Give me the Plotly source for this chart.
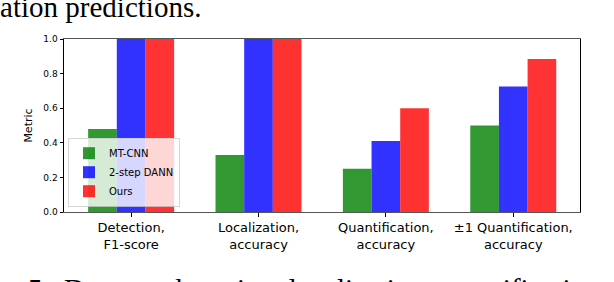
import plotly.graph_objects as go

categories = ["Detection,<br>F1-score", "Localization,<br>accuracy",
              "Quantification,<br>accuracy", "±1 Quantification,<br>accuracy"]
series_names = ["MT-CNN", "2-step DANN", "Ours"]
mtcnn = [0.48, 0.33, 0.25, 0.50]
dann = [1.00, 1.00, 0.41, 0.725]
ours = [1.00, 1.00, 0.60, 0.885]
y_ticks = [0.0, 0.2, 0.4, 0.6, 0.8, 1.0]

colors = ["rgb(0,128,0)", "rgb(0,0,255)", "rgb(255,0,0)"]
positions = list(range(len(categories)))

fig = go.Figure()
for name, vals, col in zip(series_names, [mtcnn, dann, ours], colors):
    fig.add_trace(go.Bar(x=positions, y=vals, name=name,
                         marker=dict(color=col, line=dict(width=0)),
                         opacity=0.8))

W, H = 614, 282
L, R, T, B = 64, 34.4, 39, 69.7
pw = W - L - R
ph = H - T - B


def px_x(px):
    return (px - L) / pw


def px_y(py):
    return (H - B - py) / ph


fig.update_layout(
    width=W, height=H,
    margin=dict(l=L, r=R, t=T, b=B, pad=0),
    paper_bgcolor="white", plot_bgcolor="white",
    barmode="group", bargap=0.325, bargroupgap=0,
    font=dict(family="DejaVu Sans", color="black"),
    showlegend=True,
    legend=dict(x=px_x(68), y=px_y(207), xanchor="left", yanchor="bottom",
                bgcolor="rgba(255,255,255,0.8)",
                bordercolor="rgba(204,204,204,0.8)", borderwidth=1,
                font=dict(size=10, family="DejaVu Sans"),
                tracegroupgap=0, itemwidth=30),
    xaxis=dict(range=[-0.527, 3.524], tickmode="array", tickvals=positions,
               ticktext=categories, tickfont=dict(size=13),
               ticks="outside", ticklen=3.5, tickcolor="black",
               showline=True, linecolor="#555", linewidth=1, mirror=True,
               showgrid=False, zeroline=False),
    yaxis=dict(range=[0, 1.0], tickmode="array", tickvals=y_ticks,
               ticktext=[f"{v:.1f}" for v in y_ticks], tickfont=dict(size=9),
               ticks="outside", ticklen=3.5, tickcolor="black",
               showline=True, linecolor="black", linewidth=1, mirror=True,
               showgrid=False, zeroline=False,
               title=dict(text="Metric", font=dict(size=11), standoff=8)),
)

cap_font = dict(family="Liberation Serif", size=29, color="black")
# cropped caption text (part of the figure page)
fig.add_annotation(text="quantification predictions.", xref="paper", yref="paper",
                   x=px_x(203), y=px_y(25),
                   xanchor="right", yanchor="bottom", showarrow=False,
                   font=cap_font)
fig.add_annotation(text="Figure 5.", xref="paper", yref="paper",
                   x=px_x(52), y=px_y(271),
                   xanchor="right", yanchor="top", showarrow=False,
                   font=cap_font)
fig.add_annotation(text="Damage detection, localization, quantification results",
                   xref="paper", yref="paper",
                   x=px_x(62), y=px_y(271),
                   xanchor="left", yanchor="top", showarrow=False,
                   font=cap_font)

fig.write_html("out.html", config={"displayModeBar": False},
               post_script="document.body.style.margin='0';")
